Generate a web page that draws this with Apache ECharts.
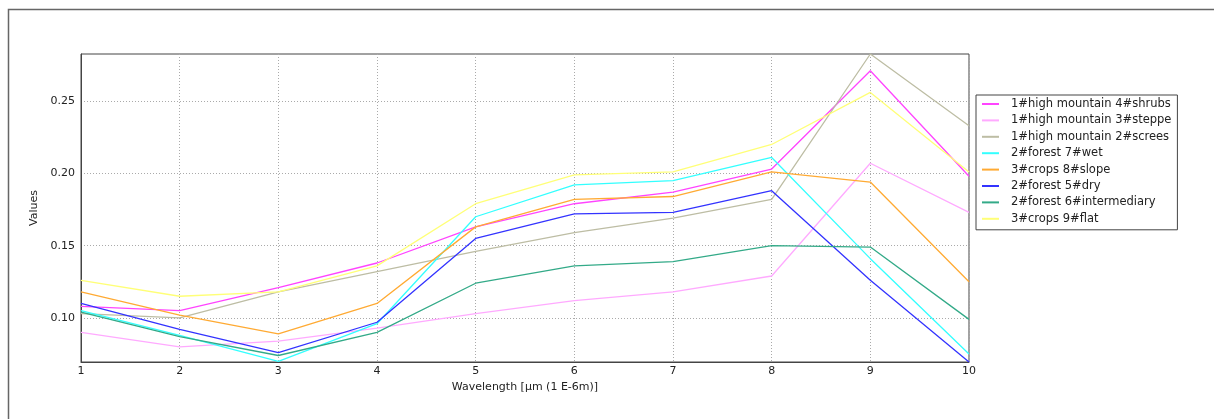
<!DOCTYPE html>
<html>
<head>
<meta charset="utf-8">
<script src="https://cdn.jsdelivr.net/npm/echarts@6/dist/echarts.min.js"></script>
<style>
html,body{margin:0;padding:0;background:#fff;}
#c{width:1214px;height:419px;}
</style>
</head>
<body>
<div id="c"></div>
<script>
const wavelengths = [1, 2, 3, 4, 5, 6, 7, 8, 9, 10];
const yTicks = [0.10, 0.15, 0.20, 0.25];

const seriesNames = [
  '1#high mountain 4#shrubs',
  '1#high mountain 3#steppe',
  '1#high mountain 2#screes',
  '2#forest 7#wet',
  '3#crops 8#slope',
  '2#forest 5#dry',
  '2#forest 6#intermediary',
  '3#crops 9#flat'
];

const shrubs       = [0.108, 0.105, 0.121, 0.138, 0.163, 0.179, 0.187, 0.203, 0.271, 0.198];
const steppe       = [0.090, 0.080, 0.084, 0.093, 0.103, 0.112, 0.118, 0.129, 0.207, 0.173];
const screes       = [0.103, 0.100, 0.118, 0.132, 0.146, 0.159, 0.169, 0.182, 0.2826, 0.233];
const wet          = [0.105, 0.088, 0.070, 0.096, 0.170, 0.192, 0.195, 0.211, 0.141, 0.075];
const slope        = [0.118, 0.102, 0.089, 0.110, 0.163, 0.182, 0.184, 0.201, 0.194, 0.125];
const dry          = [0.110, 0.092, 0.076, 0.097, 0.155, 0.172, 0.173, 0.188, 0.126, 0.0695];
const intermediary = [0.104, 0.087, 0.074, 0.090, 0.124, 0.136, 0.139, 0.150, 0.149, 0.099];
const flat         = [0.126, 0.115, 0.118, 0.136, 0.179, 0.199, 0.201, 0.220, 0.256, 0.201];

const seriesValues = [shrubs, steppe, screes, wet, slope, dry, intermediary, flat];
const seriesColors = ['#ff44ff', '#ffaaff', '#bdbda4', '#33ffff', '#ffaa33', '#3333ff', '#33aa88', '#ffff77'];

const chart = echarts.init(document.getElementById('c'), null, {renderer: 'canvas'});
const font = 'DejaVu Sans';

const series = seriesNames.map((name, i) => ({
  name: name,
  type: 'line',
  data: wavelengths.map((w, j) => [w, seriesValues[i][j]]),
  showSymbol: false,
  symbol: 'none',
  lineStyle: {color: seriesColors[i], width: 1.3},
  itemStyle: {color: seriesColors[i]},
  animation: false,
  z: 3
}));

chart.setOption({
  animation: false,
  backgroundColor: '#ffffff',
  graphic: [{
    type: 'rect',
    shape: {x: 8.5, y: 9.5, width: 1400, height: 600},
    style: {fill: 'none', stroke: '#666', lineWidth: 1.5},
    silent: true,
    z: 0
  }],
  grid: {
    left: 81, right: 245, top: 54, bottom: 57,
    show: true, borderColor: '#444', borderWidth: 1, backgroundColor: 'transparent'
  },
  xAxis: {
    type: 'value', min: 1, max: 10, interval: 1,
    name: 'Wavelength [µm (1 E-6m)]', nameLocation: 'middle', nameGap: 16,
    nameTextStyle: {fontFamily: font, fontSize: 11, color: '#222'},
    axisLine: {show: true, lineStyle: {color: '#444'}},
    axisTick: {show: false},
    axisLabel: {fontFamily: font, fontSize: 11, color: '#222', margin: 4},
    splitLine: {show: true, lineStyle: {color: '#aaa', type: [1, 2], width: 1}}
  },
  yAxis: {
    type: 'value', min: 'dataMin', max: 'dataMax',
    name: 'Values', nameLocation: 'middle', nameGap: 34, nameRotate: 90,
    nameTextStyle: {fontFamily: font, fontSize: 11, color: '#222'},
    axisLine: {show: true, lineStyle: {color: '#444'}},
    axisTick: {show: false, customValues: yTicks},
    axisLabel: {fontFamily: font, fontSize: 11, color: '#222', margin: 6,
      customValues: yTicks, formatter: v => v.toFixed(2)},
    splitLine: {show: true, lineStyle: {color: '#aaa', type: [1, 2], width: 1}}
  },
  legend: {
    orient: 'vertical',
    left: 976, top: 95,
    width: 200,
    padding: [2, 6, 4, 6],
    borderColor: '#444', borderWidth: 1,
    backgroundColor: '#fff',
    icon: 'rect',
    itemWidth: 17, itemHeight: 2, itemGap: 2.4,
    textStyle: {fontFamily: font, fontSize: 11.5, color: '#222', lineHeight: 14, padding: [0, 0, 0, 7]},
    data: seriesNames
  },
  series: series
});
</script>
</body>
</html>
